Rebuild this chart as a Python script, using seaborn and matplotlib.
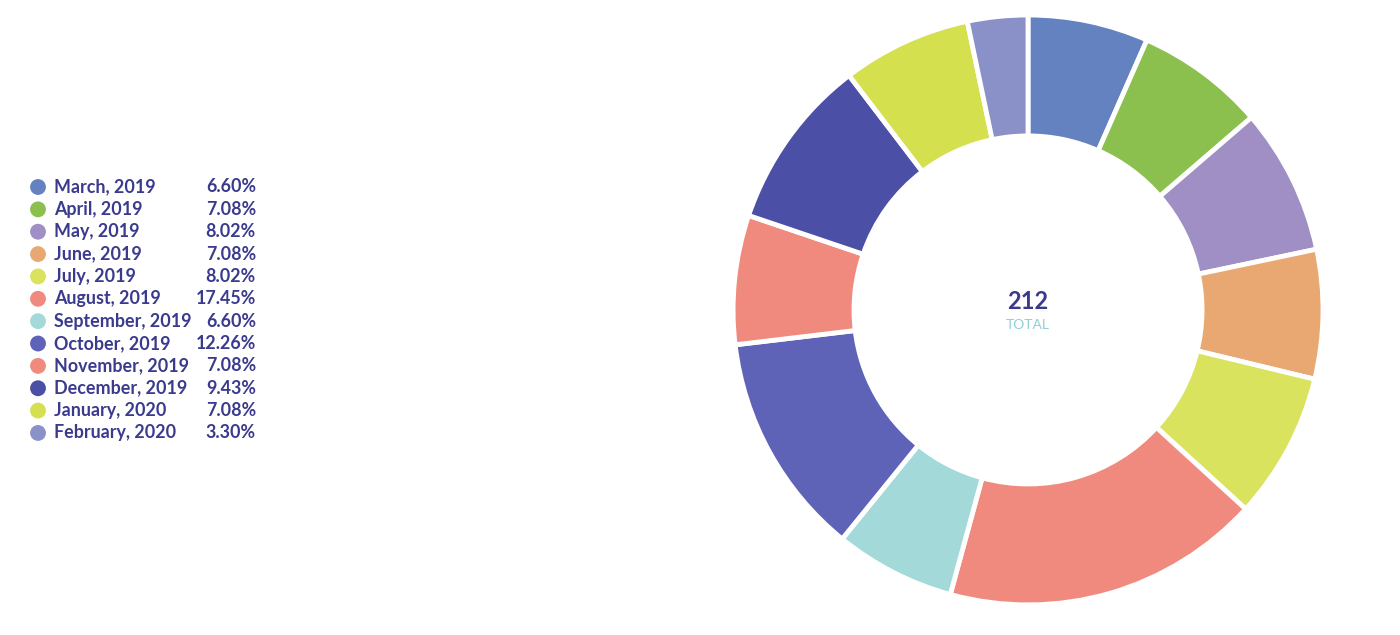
import matplotlib
matplotlib.use("Agg")
import matplotlib.pyplot as plt
import seaborn as sns

# ===================== data =====================
months = ["March, 2019", "April, 2019", "May, 2019", "June, 2019", "July, 2019",
          "August, 2019", "September, 2019", "October, 2019", "November, 2019",
          "December, 2019", "January, 2020", "February, 2020"]
counts = [14, 15, 17, 15, 17, 37, 14, 26, 15, 20, 15, 7]
shares = ["6.60%", "7.08%", "8.02%", "7.08%", "8.02%", "17.45%",
          "6.60%", "12.26%", "7.08%", "9.43%", "7.08%", "3.30%"]
colors = ["#6482C0", "#8BC04E", "#A08FC4", "#E9A872", "#D9E35E", "#F08A7E",
          "#A3D9D9", "#5E63B8", "#F08A7E", "#4B4FA6", "#D4E04E", "#8A90C8"]
total_label = "212"

# ===================== style =====================
sns.set_theme(style="white")
plt.rcParams["font.family"] = ["Lato", "DejaVu Sans"]
text_col = "#3B3B8E"

fig = plt.figure(figsize=(14, 6.35), dpi=100)

# donut
ax = fig.add_axes([0.5236, 0.0474, 0.4214, 0.929])
ax.pie(counts, colors=colors, startangle=90, counterclock=False, radius=1.0,
       wedgeprops=dict(width=0.41, edgecolor="white", linewidth=3.5))
ax.set_xlim(-1, 1)
ax.set_ylim(-1, 1)
ax.set_aspect("equal")
ax.text(0, 0.03, total_label, ha="center", va="center", fontsize=17,
        fontweight="bold", color=text_col)
ax.text(0, -0.05, "TOTAL", ha="center", va="center", fontsize=10,
        color="#8FCFD6")

# legend
lax = fig.add_axes([0, 0, 0.3, 1])
lax.set_xlim(0, 420)
lax.set_ylim(635, 0)
lax.axis("off")
y0, dy = 187, 22.36
for i, (m, s, c) in enumerate(zip(months, shares, colors)):
    y = y0 + i * dy
    lax.scatter(38, y, s=130, color=c, edgecolor="none")
    lax.text(54, y, m, ha="left", va="center", fontsize=12.9,
             fontweight="bold", color=text_col)
    lax.text(256, y, s, ha="right", va="center", fontsize=12.9,
             fontweight="bold", color=text_col)

fig.savefig("out.png", dpi=100, facecolor="white")
